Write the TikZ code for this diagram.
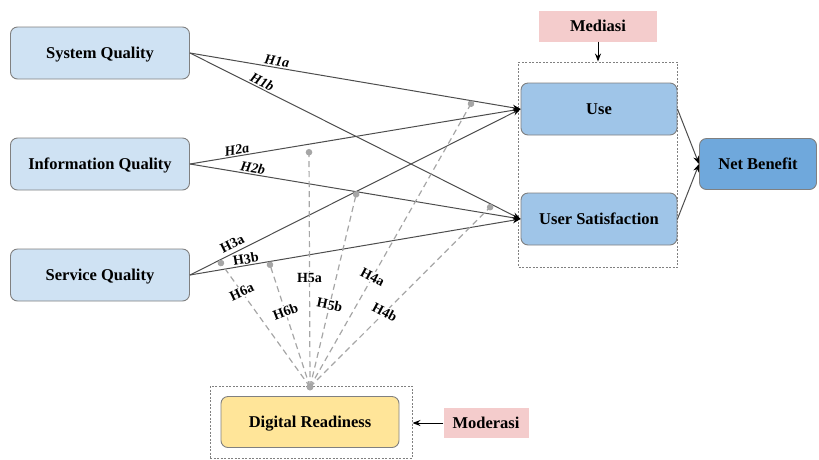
\documentclass[tikz,border=0pt]{standalone}
\usepackage{fontspec}
\setmainfont{Liberation Serif}
\usepackage{tikz}
\usetikzlibrary{shapes, arrows.meta, positioning}

\definecolor{qualblue}{HTML}{CFE2F3}
\definecolor{medblue}{HTML}{9FC5E8}
\definecolor{netblue}{HTML}{6FA8DC}
\definecolor{readyyellow}{HTML}{FFE599}
\definecolor{notepink}{HTML}{F4CCCC}
\definecolor{edgegray}{HTML}{4D4D4D}
\definecolor{modgray}{HTML}{A6A6A6}

\begin{document}
\begin{tikzpicture}[x=1pt, y=-1pt, node distance=111pt, font=\bfseries\fontsize{16.5}{19}\selectfont]
% Node styles
\tikzstyle{construct} = [rectangle, rounded corners=7pt, minimum width=179pt, minimum height=52pt, text height=11.5pt, text depth=0pt, text centered, draw=gray, line width=0.9pt, fill=qualblue]
\tikzstyle{mediator} = [construct, minimum width=156pt, fill=medblue]
\tikzstyle{outcome} = [construct, minimum width=117pt, minimum height=51pt, fill=netblue]
\tikzstyle{moderator} = [construct, minimum width=178pt, minimum height=51pt, fill=readyyellow]
\tikzstyle{note} = [rectangle, minimum height=31pt, text height=11.5pt, text depth=0pt, text centered, fill=notepink]
\tikzstyle{group} = [rectangle, draw=gray, dash pattern=on 2pt off 1.5pt, line width=0.9pt]
\tikzstyle{hyp} = [draw=edgegray, line width=1pt, -{Stealth[black, length=8pt, width=6pt]}]
\tikzstyle{modline} = [draw=modgray, line width=1.2pt, dash pattern=on 6pt off 4pt, -{Circle[length=6.5pt]}]
\tikzstyle{hlabel} = [font=\bfseries\fontsize{14}{16}\selectfont, inner sep=1pt]
\tikzstyle{hlabit} = [font=\bfseries\itshape\fontsize{14}{16}\selectfont, inner sep=1pt]
\tikzstyle{arrow} = [line width=1pt, -{Stealth[length=8pt, width=6pt]}]

\useasboundingbox (0,0) rectangle (819,459);

% Nodes
\node [construct] (sysq) at (100,53) {System Quality};
\node [construct, below of=sysq] (infoq) {Information Quality};
\node [construct, below of=infoq] (servq) {Service Quality};
\node [mediator] (use) at (599,109) {Use};
\node [mediator, below of=use, yshift=1pt] (usat) {User Satisfaction};
\node [outcome] (netb) at (758,164) {Net Benefit};
\node [moderator] (digr) at (310,422) {Digital Readiness};
\node [group, minimum width=159pt, minimum height=205pt] (medbox) at (598,164.5) {};
\node [group, minimum width=202pt, minimum height=72pt] (digbox) at (311,422) {};
\node [note, minimum width=118pt] (mediasi) at (598,26) {Mediasi};
\node [note, minimum width=85pt, minimum height=30pt] (moderasi) at (486,423) {Moderasi};

% Arrows
\draw [hyp] (sysq.east) -- node[hlabit, pos=0.26, sloped, above] {H1a} coordinate[pos=0.855] (m4a) (use.west);
\draw [hyp] (sysq.east) -- node[hlabit, pos=0.21, sloped, above] {H1b} coordinate[pos=0.915] (m4b) (usat.west);
\draw [hyp] (infoq.east) -- node[hlabit, pos=0.145, sloped, above] {H2a} (use.west);
\draw [hyp] (infoq.east) -- node[hlabit, pos=0.187, sloped, above] {H2b} (usat.west);
\draw [hyp] (servq.east) -- node[hlabel, pos=0.14, sloped, above=3pt] {H3a} coordinate[pos=0.505] (m5b) coordinate[pos=0.088] (m6a) (use.west);
\draw [hyp] (servq.east) -- node[hlabel, pos=0.172, sloped, above] {H3b} coordinate[pos=0.239] (m6b) (usat.west);
\draw [hyp] (use.east) -- (netb.west);
\draw [hyp] (usat.east) -- (netb.west);
\draw [arrow] (mediasi) -- (medbox);
\draw [arrow] (moderasi.west) -- (moderasi.west -| digbox.east);

% Moderation
\coordinate (m5a) at (309,149);
\coordinate (hub) at (310,387);
\draw [modline] (hub) -- node[hlabel, pos=0.75, fill=white, rotate=25] {H6a} (m6a);
\draw [modline] (hub) -- node[hlabel, pos=0.6, fill=white, rotate=21] {H6b} (m6b);
\draw [modline] (hub) -- node[hlabel, pos=0.46, fill=white] {H5a} (m5a);
\draw [modline] (hub) -- node[hlabel, pos=0.42, fill=white, rotate=-12] {H5b} (m5b);
\draw [modline] (hub) -- node[hlabel, pos=0.385, fill=white, rotate=-28] {H4a} (m4a);
\draw [modline] (hub) -- node[hlabel, pos=0.41, fill=white, rotate=-28] {H4b} (m4b);
\fill [modgray] (hub) circle (3.5pt);
\end{tikzpicture}
\end{document}
